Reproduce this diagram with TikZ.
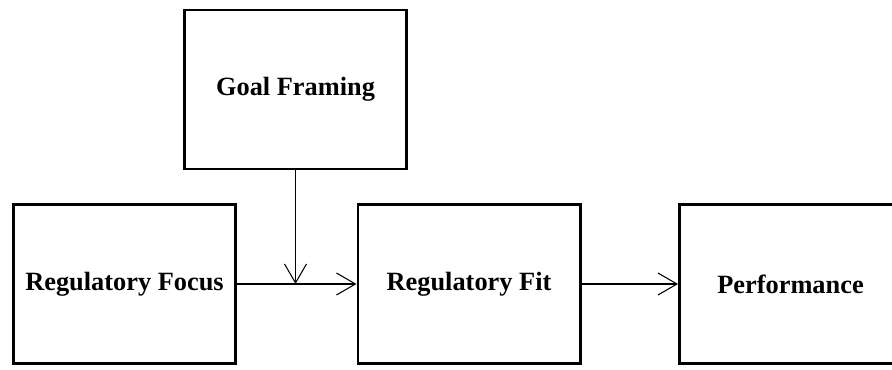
\documentclass[tikz,border=0pt]{standalone}
\usepackage{fontspec}
\setmainfont{Liberation Serif}
\usetikzlibrary{arrows.meta}
\usetikzlibrary{positioning}

\tikzset{
  factor/.style={draw=black,line width=1.7pt,rectangle,minimum width=4.44cm,minimum height=3.18cm,inner sep=0pt,font=\fontsize{15}{18}\selectfont\bfseries},
  link/.style={line width=0.6pt,-{Straight Barb[length=0.38cm,width=0.44cm,line width=0.6pt]}}
}

\begin{document}
\begin{tikzpicture}
\useasboundingbox (0,0) rectangle (17.84,7.38);
\node[factor] (goal) at (5.91,5.59) {Goal Framing};
\node[factor] (focus) at (2.49,1.70) {Regulatory Focus};
\node[factor] (fit) at (9.38,1.70) {Regulatory Fit};
\node[factor] (perf) at (15.81,1.70) {Performance};
\coordinate (J) at (goal.south |- focus.east);

\draw[link] (focus.east) -- (fit.west);
\draw[link] (goal.south) -- (J);
\draw[link] (fit.east) -- (perf.west);

\end{tikzpicture}
\end{document}
